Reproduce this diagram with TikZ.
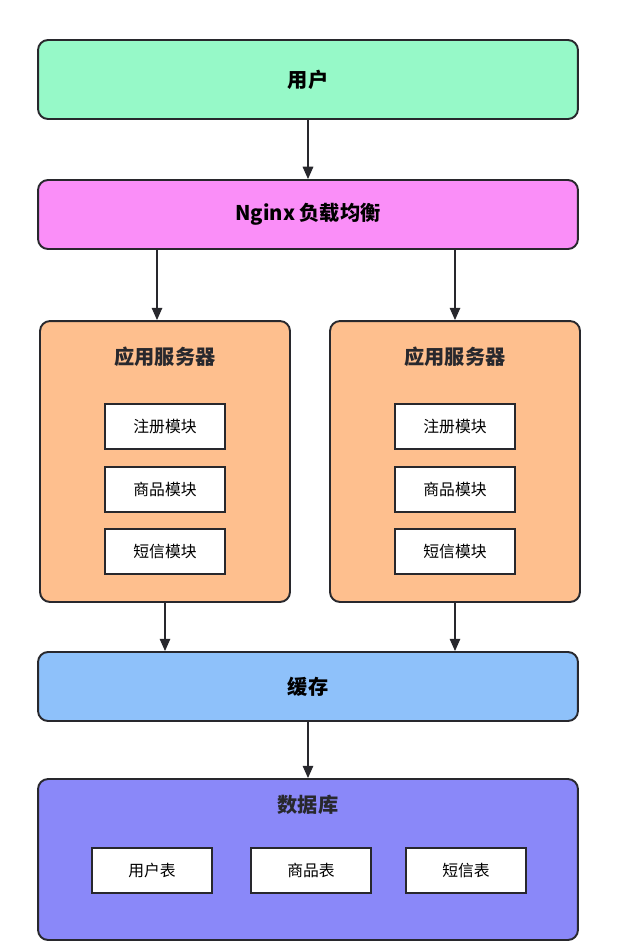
\documentclass[tikz,border=0pt]{standalone}
\usepackage{fontspec}
\setmainfont{Noto Sans CJK SC}
\usetikzlibrary{arrows.meta}
\definecolor{figMenthe}{RGB}{150,249,200}
\definecolor{figRose}{RGB}{250,142,248}
\definecolor{figOrange}{RGB}{254,191,142}
\definecolor{figCiel}{RGB}{142,193,250}
\definecolor{figViolet}{RGB}{138,136,249}
\definecolor{figTrait}{RGB}{40,40,45}

\begin{document}
\begin{tikzpicture}[
  x=0.02cm, y=-0.02cm, every node/.style={font=\fontsize{9}{11}\selectfont},
  couche/.style={draw=figTrait, line width=1.1pt, rounded corners=0.2cm, minimum width=10.8cm,
                 minimum height=1.38cm, inner sep=0pt, font=\fontsize{11.5}{13}\selectfont\bfseries},
  serveur/.style={draw=figTrait, line width=1.1pt, rounded corners=0.2cm, minimum width=5cm,
                  minimum height=5.62cm, inner sep=0pt, fill=figOrange},
  bloc/.style={draw=figTrait, line width=0.9pt, fill=white, minimum width=2.4cm,
               minimum height=0.9cm, inner sep=0pt},
  titre/.style={font=\fontsize{11.5}{13}\selectfont\bfseries, text=figTrait},
  fl/.style={-{Triangle[length=7pt,width=6pt]}, line width=0.8pt, figTrait}
]
\useasboundingbox[fill=white] (0,0) rectangle (621,948);

\node[couche, fill=figMenthe, minimum height=1.58cm] (user) at (308,79.5) {用户};
\node[couche, fill=figRose] (nginx) at (308,214.5) {Nginx 负载均衡};

% Deux serveurs d'application, chacun avec ses trois modules.
\node[serveur] (srvL) at (165,461.5) {};
\node[serveur] (srvR) at (455,461.5) {};
\node[titre] (titL) at (165,357) {应用服务器};
\node[titre] (titR) at (455,357) {应用服务器};

\node[bloc] (regL) at (165,426.5) {注册模块};
\node[bloc] (prodL) at (165,489.5) {商品模块};
\node[bloc] (smsL) at (165,551.5) {短信模块};
\node[bloc] (regR) at (455,426.5) {注册模块};
\node[bloc] (prodR) at (455,489.5) {商品模块};
\node[bloc] (smsR) at (455,551.5) {短信模块};

\node[couche, fill=figCiel] (cache) at (308,686.5) {缓存};

\node[couche, fill=figViolet, minimum height=3.22cm] (db) at (308,859.5) {};
\node[titre] (titDb) at (308,805) {数据库};
\node[bloc] (tUser) at (152,870.5) {用户表};
\node[bloc] (tProd) at (311,870.5) {商品表};
\node[bloc] (tSms) at (466,870.5) {短信表};

\draw[fl] (user.south) -- (nginx.north);
\draw[fl] ([xshift=-0.16cm]nginx.south -| srvL.north) -- ([xshift=-0.16cm]srvL.north);
\draw[fl] (nginx.south -| srvR.north) -- (srvR.north);
\draw[fl] (srvL.south) -- (cache.north -| srvL.south);
\draw[fl] (srvR.south) -- (cache.north -| srvR.south);
\draw[fl] (cache.south) -- (db.north);
\end{tikzpicture}
\end{document}
